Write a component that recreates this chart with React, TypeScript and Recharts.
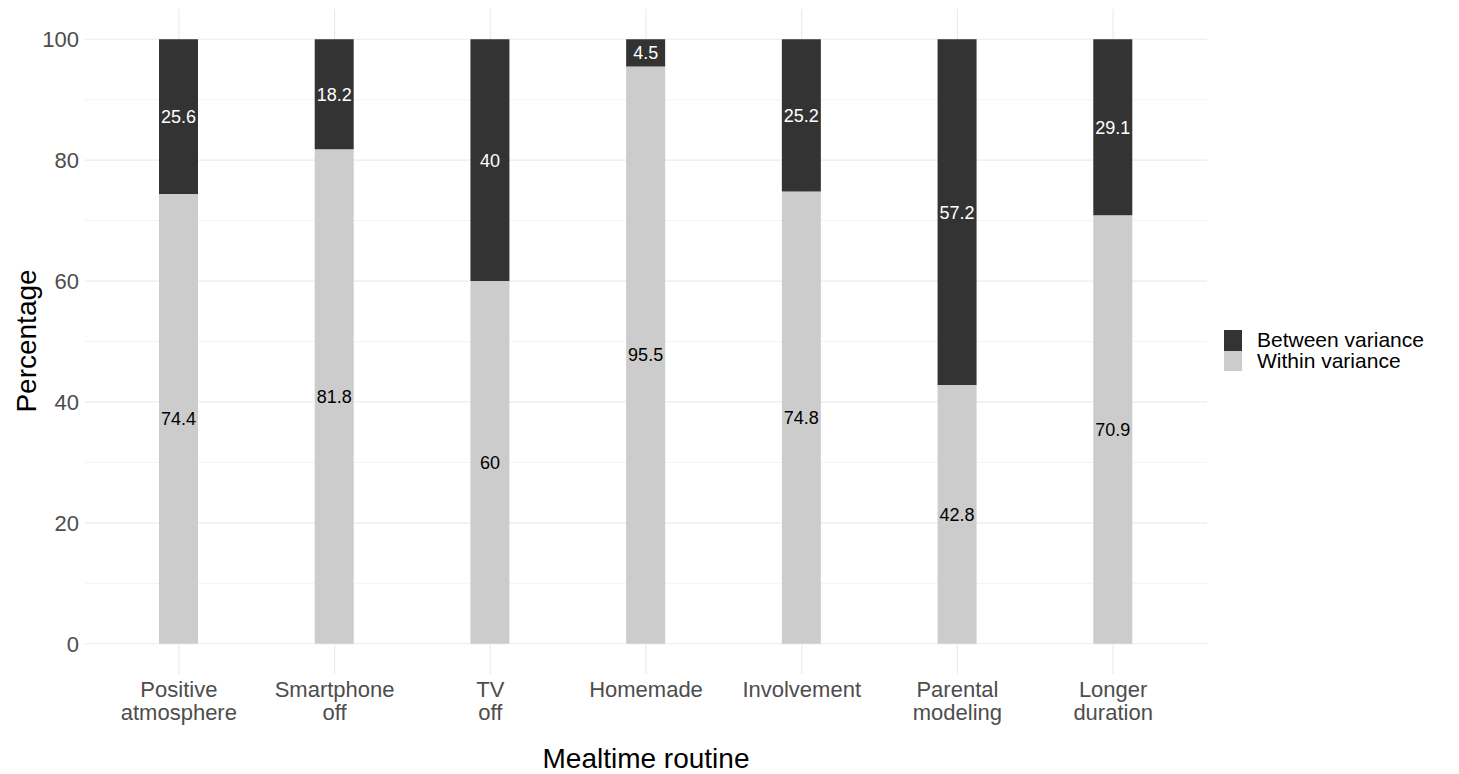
import * as React from "react";
import { Bar, BarChart, CartesianGrid, LabelList, XAxis, YAxis } from "recharts";

const CATEGORIES = [
  "Positive\natmosphere",
  "Smartphone\noff",
  "TV\noff",
  "Homemade",
  "Involvement",
  "Parental\nmodeling",
  "Longer\nduration",
];
const WITHIN = [74.4, 81.8, 60, 95.5, 74.8, 42.8, 70.9];
const BETWEEN = [25.6, 18.2, 40, 4.5, 25.2, 57.2, 29.1];
const Y_TICKS = [0, 20, 40, 60, 80, 100];
const Y_MINOR = [10, 30, 50, 70, 90];

const FONT = '"Liberation Sans", Arial, Helvetica, sans-serif';
const DARK = "#333333";
const LIGHT = "#cccccc";
const TICK_COLOR = "#4d4d4d";

const rows = CATEGORIES.map((name, i) => ({
  name,
  within: WITHIN[i],
  between: BETWEEN[i],
}));

// two-line category labels, ggplot style
function CategoryTick(props: any) {
  const { x, y, payload } = props;
  const lines = String(payload.value).split("\n");
  return (
    <text x={x} y={y} textAnchor="middle" fill={TICK_COLOR} fontSize={22} fontFamily={FONT}>
      {lines.map((line, i) => (
        <tspan key={i} x={x} dy={23}>
          {line}
        </tspan>
      ))}
    </text>
  );
}

function LegendBox() {
  const items = [
    { label: "Between variance", color: DARK },
    { label: "Within variance", color: LIGHT },
  ];
  return (
    <div
      style={{
        position: "absolute",
        left: 1224,
        top: 330,
        fontFamily: FONT,
        fontSize: 21,
        color: "#000",
      }}
    >
      {items.map((it) => (
        <div key={it.label} style={{ display: "flex", alignItems: "center", height: 20.5 }}>
          <span
            style={{
              display: "inline-block",
              width: 18,
              height: 20.5,
              background: it.color,
              marginRight: 15,
            }}
          />
          <span style={{ lineHeight: "20px", whiteSpace: "nowrap" }}>{it.label}</span>
        </div>
      ))}
    </div>
  );
}

export default function App() {
  return (
    <div
      style={{
        position: "absolute",
        left: 0,
        top: 0,
        width: 1459,
        height: 774,
        background: "#fff",
      }}
    >
      <BarChart
        width={1459}
        height={774}
        data={rows}
        margin={{ top: 9, right: 252, bottom: 0, left: 0 }}
        barSize={39}
      >
        <CartesianGrid
          stroke="#f3f3f3"
          strokeWidth={1}
          vertical={false}
          horizontalValues={Y_MINOR}
          syncWithTicks
        />
        <CartesianGrid
          stroke="#ebebeb"
          strokeWidth={1.2}
          horizontalValues={Y_TICKS}
          syncWithTicks
        />
        <XAxis
          dataKey="name"
          height={100}
          padding={{ left: 16, right: 16 }}
          axisLine={false}
          tickLine={false}
          tickSize={0}
          tickMargin={0}
          interval={0}
          tick={<CategoryTick />}
          label={{
            content: (p: any) => (
              <text
                x={p.viewBox.x + p.viewBox.width / 2}
                y={768}
                textAnchor="middle"
                fontSize={28}
                fontFamily={FONT}
                fill="#000"
              >
                Mealtime routine
              </text>
            ),
          }}
        />
        <YAxis
          type="number"
          domain={[-5, 105]}
          ticks={Y_TICKS}
          width={85}
          axisLine={false}
          tickLine={false}
          tickSize={0}
          tickMargin={6}
          tick={{ fill: TICK_COLOR, fontSize: 22, fontFamily: FONT }}
          label={{
            content: () => (
              <text
                x={0}
                y={0}
                transform="translate(36, 341) rotate(-90)"
                textAnchor="middle"
                fontSize={28}
                fontFamily={FONT}
                fill="#000"
              >
                Percentage
              </text>
            ),
          }}
        />
        <Bar dataKey="within" stackId="a" fill={LIGHT} name="Within variance" isAnimationActive={false}>
          <LabelList dataKey="within" position="center" fill="#000" fontSize={18} fontFamily={FONT} />
        </Bar>
        <Bar dataKey="between" stackId="a" fill={DARK} name="Between variance" isAnimationActive={false}>
          <LabelList dataKey="between" position="center" fill="#fff" fontSize={18} fontFamily={FONT} />
        </Bar>
      </BarChart>
      <LegendBox />
    </div>
  );
}
